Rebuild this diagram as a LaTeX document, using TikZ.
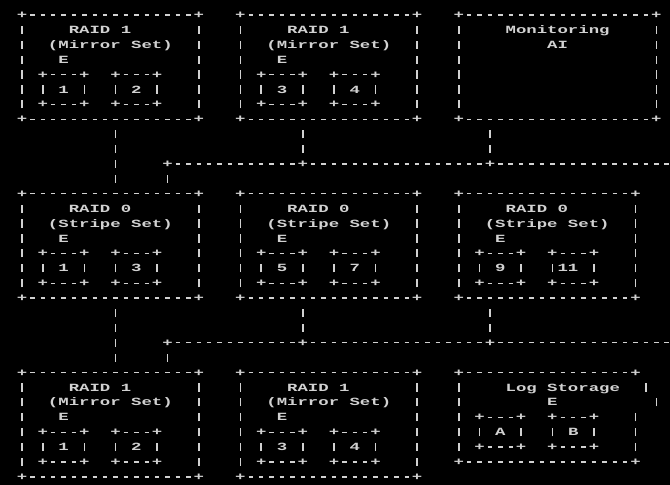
\documentclass[tikz,border=0pt]{standalone}
\usepackage{fontspec}
\setmonofont{Liberation Mono}
\usepackage{graphicx}
\definecolor{fg}{gray}{0.82}
\newcommand\hd{\makebox[0.6em][c]{\rule[2.9pt]{0.26em}{1.3pt}}}
\newcommand\vb{\makebox[0.6em][c]{\rule[-0.5pt]{1.0pt}{8.2pt}}}
\ExplSyntaxOn
\NewDocumentCommand\rephd{m}{\prg_replicate:nn{#1}{\hd}}
\ExplSyntaxOff
\newcommand\sx[1]{\scalebox{1.5755}[1]{#1}}
\tikzset{asc/.style={anchor=base west, inner sep=0pt, outer sep=0pt, text=fg, font=\fontsize{11}{13}\selectfont\ttfamily\bfseries}}
% one text run at column #2, row #3
\newcommand\seg[4]{\node[asc] (#1) at (#2-0.5,#3+0.24) {\sx{#4}};}
% ascii box: name, col, top row, inner width, inner rows
\newcommand\bx[5]{%
  \seg{#1t}{#2}{#3}{+\rephd{#4}+}
  \seg{#1b}{#2}{#3+#5+1}{+\rephd{#4}+}
  \foreach \i in {1,...,#5}{\seg{#1l\i}{#2}{#3+\i}{\vb}\seg{#1r\i}{#2+#4+1}{#3+\i}{\vb}}}
% disk: name, col, row, middle text
\newcommand\dk[4]{%
  \seg{#1t}{#2}{#3}{+\rephd{3}+}
  \seg{#1m}{#2}{#3+1}{#4}
  \seg{#1b}{#2}{#3+2}{+\rephd{3}+}}
\begin{document}
\begin{tikzpicture}[x=10.4pt,y=-14.9pt]
\useasboundingbox (-2.1154,-0.0067) rectangle (62.3077,32.5436);
\fill[black] (-2.1154,-0.0067) rectangle (62.3077,32.5436);
\clip (-2.1154,-0.0067) rectangle (62.3077,32.5436);
% ---------- top row ----------
\bx{a}{0}{1}{16}{6}
\seg{aT1}{5}{2}{RAID 1}
\seg{aT2}{3}{3}{(Mirror Set)}
\seg{aE}{4}{4}{E}
\dk{ad1}{2}{5}{\vb~1~\vb}
\dk{ad2}{9}{5}{\vb~2~\vb}
\bx{b}{21}{1}{16}{6}
\seg{bT1}{26}{2}{RAID 1}
\seg{bT2}{24}{3}{(Mirror Set)}
\seg{bE}{25}{4}{E}
\dk{bd1}{23}{5}{\vb~3~\vb}
\dk{bd2}{30}{5}{\vb~4~\vb}
\bx{c}{42}{1}{18}{6}
\seg{cT1}{47}{2}{Monitoring}
\seg{cT2}{51}{3}{AI}
% ---------- connectors 1 ----------
\foreach \r in {9,10,11,12}{\seg{p\r}{9}{\r}{\vb}}
\foreach \r in {9,10}{\seg{q\r}{27}{\r}{\vb}\seg{u\r}{45}{\r}{\vb}}
\seg{bus1}{14}{11}{+\rephd{12}+\rephd{17}+\rephd{18}}
\seg{s1}{14}{12}{\vb}
% ---------- middle row ----------
\bx{d}{0}{13}{16}{6}
\seg{dT1}{5}{14}{RAID 0}
\seg{dT2}{3}{15}{(Stripe Set)}
\seg{dE}{4}{16}{E}
\dk{dd1}{2}{17}{\vb~1~\vb}
\dk{dd2}{9}{17}{\vb~3~\vb}
\bx{e}{21}{13}{16}{6}
\seg{eT1}{26}{14}{RAID 0}
\seg{eT2}{24}{15}{(Stripe Set)}
\seg{eE}{25}{16}{E}
\dk{ed1}{23}{17}{\vb~5~\vb}
\dk{ed2}{30}{17}{\vb~7~\vb}
\bx{f}{42}{13}{16}{6}
\seg{fT1}{47}{14}{RAID 0}
\seg{fT2}{45}{15}{(Stripe Set)}
\seg{fE}{46}{16}{E}
\dk{fd1}{44}{17}{\vb~9~\vb}
\dk{fd2}{51}{17}{\vb 11~\vb}
% ---------- connectors 2 ----------
\foreach \r in {21,22,23,24}{\seg{pp\r}{9}{\r}{\vb}}
\foreach \r in {21,22}{\seg{qq\r}{27}{\r}{\vb}\seg{uu\r}{45}{\r}{\vb}}
\seg{bus2}{14}{23}{+\rephd{12}+\rephd{17}+\rephd{18}}
\seg{s2}{14}{24}{\vb}
% ---------- bottom row ----------
\bx{g}{0}{25}{16}{6}
\seg{gT1}{5}{26}{RAID 1}
\seg{gT2}{3}{27}{(Mirror Set)}
\seg{gE}{4}{28}{E}
\dk{gd1}{2}{29}{\vb~1~\vb}
\dk{gd2}{9}{29}{\vb~2~\vb}
\bx{h}{21}{25}{16}{6}
\seg{hT1}{26}{26}{RAID 1}
\seg{hT2}{24}{27}{(Mirror Set)}
\seg{hE}{25}{28}{E}
\dk{hd1}{23}{29}{\vb~3~\vb}
\dk{hd2}{30}{29}{\vb~4~\vb}
% Log Storage box (irregular right side)
\seg{it}{42}{25}{+\rephd{16}+}
\seg{ib}{42}{31}{+\rephd{16}+}
\foreach \r in {26,...,30}{\seg{il\r}{42}{\r}{\vb}}
\seg{ir26}{60}{26}{\vb}
\seg{ir27}{61}{27}{\vb}
\foreach \r in {28,29,30}{\seg{ir\r}{59}{\r}{\vb}}
\seg{iT1}{47}{26}{Log Storage}
\seg{iE}{51}{27}{E}
\dk{id1}{44}{28}{\vb~A~\vb}
\dk{id2}{51}{28}{\vb~B~\vb}
\end{tikzpicture}
\end{document}
